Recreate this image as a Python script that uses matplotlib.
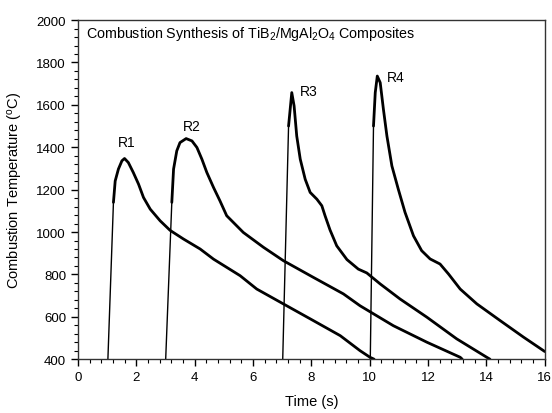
import matplotlib
matplotlib.use("Agg")
import matplotlib.pyplot as plt
from matplotlib.ticker import MultipleLocator

plt.rcParams['font.family'] = ['Liberation Sans', 'DejaVu Sans']
plt.rcParams['mathtext.fontset'] = 'custom'
plt.rcParams['mathtext.rm'] = 'Liberation Sans'
plt.rcParams['mathtext.it'] = 'Liberation Sans:italic'
plt.rcParams['mathtext.bf'] = 'Liberation Sans:bold'

# time (s), temperature (C)
r1_t = [1.03, 1.22, 1.28, 1.39, 1.51, 1.60, 1.73, 1.90, 2.08, 2.25, 2.48, 2.82, 3.16,
        3.62, 4.19, 4.65, 5.56, 6.13, 7.04, 8.07, 8.99, 9.67, 10.01, 10.15]
r1_T = [400, 1140, 1241, 1297, 1336, 1347, 1328, 1281, 1226, 1163, 1108, 1053, 1008,
        967, 920, 872, 794, 731, 661, 582, 511, 440, 409, 400]

r2_t = [3.01, 3.22, 3.28, 3.39, 3.50, 3.71, 3.91, 4.08, 4.25, 4.42, 4.65, 4.87, 5.10,
        5.67, 6.36, 7.04, 8.07, 9.10, 9.67, 10.81, 11.96, 13.10, 13.17]
r2_T = [400, 1140, 1297, 1383, 1422, 1441, 1430, 1399, 1344, 1281, 1210, 1147, 1077,
        998, 928, 865, 786, 708, 652, 558, 480, 409, 400]

r3_t = [7.02, 7.22, 7.33, 7.41, 7.50, 7.62, 7.79, 7.96, 8.19, 8.36, 8.47, 8.64, 8.87,
        9.22, 9.61, 9.90, 10.36, 11.04, 11.96, 12.98, 14.01, 14.12]
r3_T = [400, 1500, 1658, 1595, 1453, 1344, 1249, 1187, 1155, 1124, 1077, 1010, 935,
        870, 825, 807, 755, 684, 598, 496, 409, 400]

r4_t = [10.02, 10.13, 10.19, 10.26, 10.36, 10.47, 10.59, 10.76, 10.98, 11.21, 11.50,
        11.78, 12.07, 12.41, 12.70, 13.10, 13.67, 14.47, 15.27, 16.0]
r4_T = [400, 1500, 1658, 1736, 1705, 1579, 1453, 1312, 1202, 1093, 982,
        912, 873, 849, 802, 731, 661, 582, 504, 436]

runs = ['R1', 'R2', 'R3', 'R4']
label_t = [1.66, 3.89, 7.91, 10.9]
label_T = [1423, 1499, 1664, 1730]

fig = plt.figure(figsize=(5.52, 4.14), dpi=100)
ax = fig.add_axes([0.141, 0.130, 0.846, 0.819])

for t, T in [(r1_t, r1_T), (r2_t, r2_T), (r3_t, r3_T), (r4_t, r4_T)]:
    # steep ignition rise is thin, the rest heavier
    ax.plot(t[:2], T[:2], color='black', lw=1.0)
    ax.plot(t[1:], T[1:], color='black', lw=2.0, solid_joinstyle='round',
            solid_capstyle='round')

for name, x, y in zip(runs, label_t, label_T):
    ax.text(x, y, name, ha='center', va='center', fontsize=10)

ax.text(0.28, 1940, 'Combustion Synthesis of TiB$_2$/MgAl$_2$O$_4$ Composites',
        ha='left', va='center', fontsize=10.3)

ax.set_xlim(0, 16)
ax.set_ylim(400, 2000)
ax.xaxis.set_major_locator(MultipleLocator(2))
ax.xaxis.set_minor_locator(MultipleLocator(0.4))
ax.yaxis.set_major_locator(MultipleLocator(200))
ax.yaxis.set_minor_locator(MultipleLocator(40))
ax.tick_params(which='major', length=5, width=1, labelsize=9.5, direction='out')
ax.tick_params(which='minor', length=3, width=0.8, direction='out')
for s in ax.spines.values():
    s.set_linewidth(1.0)
    s.set_color('#333333')

ax.set_xlabel('Time (s)', fontsize=10.5, labelpad=8)
ax.set_ylabel(r'Combustion Temperature ($^{\rm o}$C)', fontsize=10.5, labelpad=8)

fig.savefig('out.png', dpi=100)
